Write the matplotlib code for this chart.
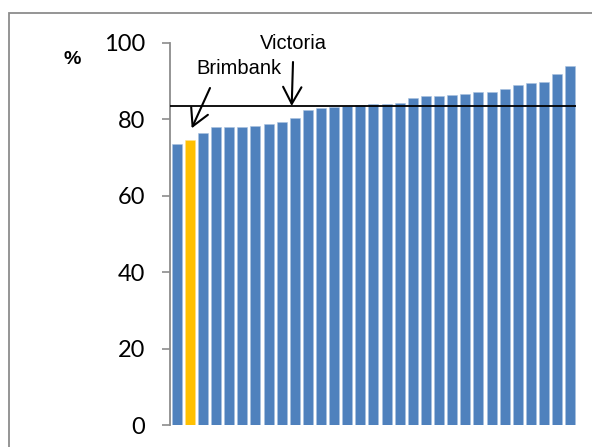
import matplotlib
matplotlib.use('Agg')
import matplotlib.pyplot as plt
from matplotlib.patches import Rectangle

# values, sorted low to high (31 areas)
values = [73.5, 74.5, 76.3, 77.9, 77.9, 78.0, 78.1, 78.8, 79.3, 80.3,
          82.4, 82.8, 83.3, 83.5, 83.7, 84.0, 84.0, 84.2, 85.5, 86.1,
          86.1, 86.2, 86.6, 87.0, 87.1, 87.8, 88.9, 89.5, 89.8, 91.7, 93.8]
highlight = 1          # Brimbank
victoria = 83.4        # state average line
yticks = [0, 20, 40, 60, 80, 100]

blue = '#4F81BD'
gold = '#FFC000'
colors = [gold if i == highlight else blue for i in range(len(values))]

W, H = 592, 447
fig = plt.figure(figsize=(W / 100, H / 100), dpi=100)
ax = fig.add_axes([170 / W, 22 / H, (576 - 170) / W, (425 - 42.7) / H])

x = list(range(len(values)))
bars = ax.bar(x, values, width=0.76, color=colors, edgecolor='#a9c1e0', linewidth=0.4, zorder=2)
bars[highlight].set_edgecolor('#ffe08a')

ax.axhline(victoria, color='black', lw=1.3, zorder=3)

ax.set_xlim(-0.51, 30.44)
ax.set_ylim(0, 100)
ax.set_xticks([])
ax.set_yticks(yticks)
ax.set_yticklabels([str(v) for v in yticks], fontfamily='Lato', fontsize=17)
ax.tick_params(axis='y', direction='out', length=5.8, width=1.2, color='#8c8c8c', pad=12.3)
for s in ['top', 'right', 'bottom']:
    ax.spines[s].set_visible(False)
ax.spines['left'].set_color('#8c8c8c')
ax.spines['left'].set_linewidth(1.3)

# annotations: labels and arrows placed in figure pixels
arrow = dict(arrowstyle='->,head_length=0.55,head_width=0.3', lw=1.5, color='black',
             shrinkA=0, shrinkB=0, mutation_scale=22)
fig.text(293 / W, 1 - 43.5 / H, 'Victoria', ha='center', va='center',
         fontsize=14.5, fontfamily='Liberation Sans')
ax.annotate('', xy=(291.7, H - 106), xycoords='figure pixels',
            xytext=(293, H - 62), textcoords='figure pixels', arrowprops=arrow)
fig.text(239 / W, 1 - 69 / H, 'Brimbank', ha='center', va='center',
         fontsize=14.5, fontfamily='Liberation Sans')
ax.annotate('', xy=(191.7, H - 128.3), xycoords='figure pixels',
            xytext=(210, H - 88), textcoords='figure pixels', arrowprops=arrow)
fig.text(72 / W, 1 - 60 / H, '%', fontsize=14, fontweight='bold',
         fontfamily='Liberation Sans', ha='center', va='center')

# chart frame (only top/left visible in the crop)
fig.patches.append(Rectangle((9 / W, -0.1), 1.2, 1 - 13.5 / H + 0.1,
                             transform=fig.transFigure, fill=False,
                             edgecolor='#8c8c8c', lw=1.3))

fig.savefig('out.png', dpi=100)
